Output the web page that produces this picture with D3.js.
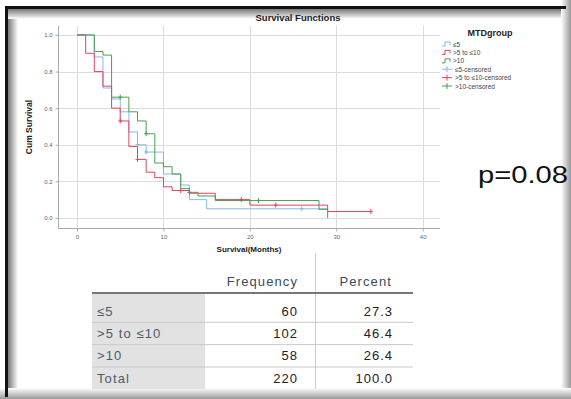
<!DOCTYPE html>
<html>
<head>
<meta charset="utf-8">
<script src="https://cdn.jsdelivr.net/npm/d3@7"></script>
<style>
body { margin: 0; background: #fff; }
text { font-family: "Liberation Sans", Arial, sans-serif; }
</style>
</head>
<body>
<script>
// Kaplan-Meier data
var groups = ["≤5", ">5 to ≤10", ">10"];
var groupColors = ["#86b7e8", "#e4405f", "#4a9e50"];

// [month, cum survival] at each step
var stepsLe5 = [[0,1],[2,0.88],[3,0.71],[4,0.65],[5,0.58],[6,0.47],[7,0.40],[8,0.36],[10,0.24],[12,0.18],[13,0.10],[15,0.05],[29,0.05]];
var steps5to10 = [[0,1],[1,0.90],[2,0.80],[3,0.72],[4,0.60],[5,0.53],[6,0.39],[7,0.32],[8,0.25],[9,0.22],[10,0.17],[11,0.15],[13,0.135],[16,0.10],[20,0.07],[29,0.035],[34,0.035]];
var stepsGt10 = [[0,1],[2,0.91],[3,0.89],[4,0.66],[6,0.58],[7,0.53],[8,0.46],[9,0.30],[10,0.28],[11,0.24],[12,0.16],[13,0.14],[14,0.12],[16,0.095],[28,0.047],[29,0],[29,0]];

// censored marks
var censLe5 = [[7,0.40],[8,0.36],[26,0.05]];
var cens5to10 = [[5,0.53],[7,0.32],[12,0.15],[19,0.10],[23,0.07],[34,0.035]];
var censGt10 = [[5,0.66],[8,0.46],[13,0.14],[21,0.095]];

var xTicks = [0, 10, 20, 30, 40];
var yTicks = [0, 0.2, 0.4, 0.6, 0.8, 1.0];

// frequency table
var tableRows = ["≤5", ">5 to ≤10", ">10", "Total"];
var tableFreq = [60, 102, 58, 220];
var tablePct = ["27.3", "46.4", "26.4", "100.0"];

var pValue = "p=0.08";

var width = 571, height = 399;

var svg = d3.select("body").append("svg")
    .attr("width", width)
    .attr("height", height);

var defs = svg.append("defs");
function grad(id, x1, y1, x2, y2, c1, c2) {
    var g = defs.append("linearGradient").attr("id", id)
        .attr("x1", x1).attr("y1", y1).attr("x2", x2).attr("y2", y2);
    g.append("stop").attr("offset", "0").attr("stop-color", c1);
    g.append("stop").attr("offset", "1").attr("stop-color", c2);
}
grad("gl", 0, 0, 1, 0, "#777", "#fff");
grad("gt", 0, 0, 0, 1, "#777", "#fff");
grad("gr", 0, 0, 1, 0, "#fff", "#999");
grad("gb", 0, 0, 0, 1, "#fff", "#999");

// frame shading
svg.append("rect").attr("x", 8).attr("y", 9).attr("width", 10).attr("height", 385).attr("fill", "url(#gl)");
svg.append("rect").attr("x", 8).attr("y", 9).attr("width", 555).attr("height", 10).attr("fill", "url(#gt)");
svg.append("rect").attr("x", 561).attr("y", 0).attr("width", 10).attr("height", 399).attr("fill", "url(#gr)");
svg.append("rect").attr("x", 0).attr("y", 388).attr("width", 571).attr("height", 11).attr("fill", "url(#gb)");
svg.append("path").attr("d", "M6.5,397V7.5H566")
    .attr("fill", "none").attr("stroke", "#111").attr("stroke-width", 3);

// plot scales
var x = d3.scaleLinear().domain([-2.2, 42]).range([58, 440]);
var y = d3.scaleLinear().domain([-0.055, 1.049]).range([228, 26]);

var grid = svg.append("g").attr("stroke", "#dcdcdc").attr("stroke-width", 1);
grid.selectAll(".gx").data(xTicks).enter().append("line")
    .attr("x1", d => Math.round(x(d)) + 0.5).attr("x2", d => Math.round(x(d)) + 0.5)
    .attr("y1", y.range()[1]).attr("y2", y.range()[0]);
grid.selectAll(".gy").data(yTicks).enter().append("line")
    .attr("x1", x.range()[0]).attr("x2", x.range()[1])
    .attr("y1", d => Math.round(y(d)) + 0.5).attr("y2", d => Math.round(y(d)) + 0.5);

// axes
var xAxis = d3.axisBottom(x).tickValues(xTicks).tickSize(3).tickFormat(d3.format("d"));
var yAxis = d3.axisLeft(y).tickValues(yTicks).tickSize(3).tickFormat(d3.format(".1f"));
var gx = svg.append("g").attr("transform", "translate(0,228.5)").call(xAxis);
var gy = svg.append("g").attr("transform", "translate(58.5,0)").call(yAxis);
[gx, gy].forEach(function(g) {
    g.select(".domain").attr("stroke", "#aaa");
    g.selectAll(".tick line").attr("stroke", "#aaa");
    g.selectAll(".tick text").attr("fill", "#666").style("font-size", "6px");
});
gx.select(".domain").attr("d", "M" + x.range()[0] + ",0H" + x.range()[1]);
gy.select(".domain").attr("d", "M0," + y.range()[1] + "V" + y.range()[0]);

// titles
svg.append("text").attr("x", 298).attr("y", 21).attr("text-anchor", "middle")
    .style("font-size", "9.5px").style("font-weight", "bold").attr("fill", "#222")
    .text("Survival Functions");
svg.append("text").attr("x", 249).attr("y", 252).attr("text-anchor", "middle")
    .style("font-size", "8px").style("font-weight", "bold").attr("fill", "#222")
    .text("Survival(Months)");
svg.append("text").attr("transform", "translate(32,127) rotate(-90)").attr("text-anchor", "middle")
    .style("font-size", "8.5px").style("font-weight", "bold").attr("fill", "#222")
    .text("Cum Survival");

// curves
var line = d3.line().x(d => x(d[0])).y(d => y(d[1])).curve(d3.curveStepAfter);
var curves = [stepsLe5, steps5to10, stepsGt10];
var censored = [censLe5, cens5to10, censGt10];

svg.selectAll(".curve").data(curves).enter().append("path")
    .attr("d", line)
    .attr("fill", "none")
    .attr("stroke", (d, i) => groupColors[i])
    .attr("stroke-width", 1);

censored.forEach(function(pts, i) {
    var g = svg.append("g").attr("stroke", groupColors[i]).attr("stroke-width", 1);
    g.selectAll("line.v").data(pts).enter().append("line")
        .attr("x1", d => x(d[0])).attr("x2", d => x(d[0]))
        .attr("y1", d => y(d[1]) - 2.5).attr("y2", d => y(d[1]) + 2.5);
    g.selectAll("line.h").data(pts).enter().append("line")
        .attr("x1", d => x(d[0]) - 2).attr("x2", d => x(d[0]) + 2)
        .attr("y1", d => y(d[1])).attr("y2", d => y(d[1]));
});

// legend
svg.append("text").attr("x", 490).attr("y", 36).attr("text-anchor", "middle")
    .style("font-size", "9px").style("font-weight", "bold").attr("fill", "#222")
    .text("MTDgroup");
var legendLabels = groups.concat(groups.map(g => g + "-censored"));
var leg = svg.append("g").selectAll("g").data(legendLabels).enter().append("g")
    .attr("transform", (d, i) => "translate(442," + (44 + i * 8.4) + ")");
leg.append("path")
    .attr("d", (d, i) => i < 3 ? "M0,2H3V-2H8V1" : "M0,0H10M5,-3V3")
    .attr("fill", "none")
    .attr("stroke", (d, i) => groupColors[i % 3]);
leg.append("text").attr("x", (d, i) => i < 3 ? 11 : 13).attr("y", 2.5)
    .style("font-size", "6.5px").attr("fill", "#444")
    .text(d => d);

// p value
svg.append("text").attr("x", 478).attr("y", 183)
    .attr("textLength", 90).attr("lengthAdjust", "spacingAndGlyphs")
    .style("font-size", "23px").attr("fill", "#111")
    .text(pValue);

// frequency table
var rowY = d3.scalePoint().domain(tableRows).range([311, 378]);
var table = svg.append("g");
table.append("rect").attr("x", 92).attr("y", 294).attr("width", 113).attr("height", 95).attr("fill", "#e2e2e2");
table.append("line").attr("x1", 315.5).attr("x2", 315.5).attr("y1", 253).attr("y2", 389).attr("stroke", "#ccc");
table.selectAll(".sep").data(tableRows.slice(1)).enter().append("line")
    .attr("x1", 92).attr("x2", 413)
    .attr("y1", d => rowY(d) - 11).attr("y2", d => rowY(d) - 11)
    .attr("stroke", "#c8c8c8");
table.append("line").attr("x1", 92).attr("x2", 413).attr("y1", 293).attr("y2", 293)
    .attr("stroke", "#777").attr("stroke-width", 2);
table.append("text").attr("x", 298).attr("y", 286).attr("text-anchor", "end")
    .style("font-size", "13px").attr("fill", "#3a4a5a").attr("letter-spacing", 1.1).text("Frequency");
table.append("text").attr("x", 392).attr("y", 286).attr("text-anchor", "end")
    .style("font-size", "13px").attr("fill", "#3a4a5a").attr("letter-spacing", 1.1).text("Percent");
table.selectAll(".rl").data(tableRows).enter().append("text")
    .attr("x", 97).attr("y", d => rowY(d) + 4.5)
    .style("font-size", "13px").attr("fill", "#4a5a6a").attr("letter-spacing", 1.1)
    .text(d => d);
table.selectAll(".fv").data(tableFreq).enter().append("text")
    .attr("x", 298).attr("y", (d, i) => rowY(tableRows[i]) + 4.5).attr("text-anchor", "end")
    .style("font-size", "13px").attr("fill", "#222").attr("letter-spacing", 1)
    .text(d => d);
table.selectAll(".pv").data(tablePct).enter().append("text")
    .attr("x", 393).attr("y", (d, i) => rowY(tableRows[i]) + 4.5).attr("text-anchor", "end")
    .style("font-size", "13px").attr("fill", "#222").attr("letter-spacing", 1)
    .text(d => d);
</script>
</body>
</html>
